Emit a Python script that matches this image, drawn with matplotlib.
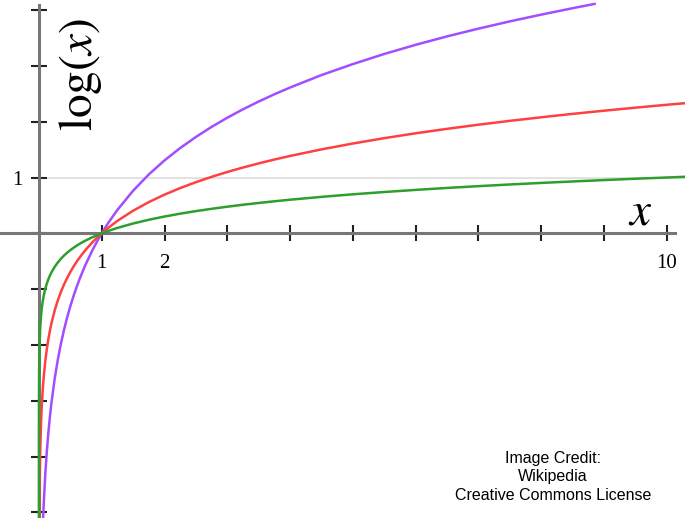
import matplotlib.pyplot as plt

plt.rcParams['mathtext.fontset'] = 'stix'

# sample points
x_vals = [1e-6, 1e-5, 1e-4, 0.001, 0.003, 0.005, 0.01, 0.02, 0.03, 0.04, 0.05, 0.06, 0.075,
          0.1, 0.125, 0.15, 0.175, 0.2, 0.25, 0.3, 0.35, 0.4, 0.45, 0.5, 0.55, 0.6, 0.65,
          0.7, 0.75, 0.85, 0.925, 1, 1.1, 1.25, 1.5, 1.75, 2, 2.25, 2.5, 2.75, 3, 3.25,
          3.5, 3.75, 4, 4.5, 5, 5.5, 6, 6.5, 7, 7.5, 8, 8.5, 9, 9.5, 10, 10.3]

green_vals = [-6.0, -5.0, -4.0, -3.0, -2.523, -2.301, -2.0, -1.699, -1.523, -1.398, -1.301, -1.222, -1.125,
              -1.0, -0.903, -0.824, -0.757, -0.699, -0.602, -0.523, -0.456, -0.398, -0.347, -0.301, -0.260, -0.222, -0.187,
              -0.155, -0.125, -0.071, -0.034, 0.0, 0.041, 0.097, 0.176, 0.243, 0.301, 0.352, 0.398, 0.439, 0.477, 0.512,
              0.544, 0.574, 0.602, 0.653, 0.699, 0.740, 0.778, 0.813, 0.845, 0.875, 0.903, 0.929, 0.954, 0.978, 1.0, 1.013]

red_vals = [-13.8, -11.51, -9.21, -6.908, -5.809, -5.298, -4.605, -3.912, -3.507, -3.219, -2.996, -2.813, -2.590,
            -2.303, -2.079, -1.897, -1.743, -1.609, -1.386, -1.204, -1.050, -0.916, -0.799, -0.693, -0.598, -0.511, -0.431,
            -0.357, -0.288, -0.163, -0.078, 0.0, 0.095, 0.223, 0.405, 0.560, 0.693, 0.811, 0.916, 1.012, 1.099, 1.179,
            1.253, 1.322, 1.386, 1.504, 1.609, 1.705, 1.792, 1.872, 1.946, 2.015, 2.079, 2.140, 2.197, 2.251, 2.303, 2.332]

# purple curve stops where it meets the top of the plot
purple_x = [1e-6, 1e-5, 1e-4, 0.001, 0.003, 0.005, 0.01, 0.02, 0.03, 0.04, 0.05, 0.06, 0.075,
            0.1, 0.125, 0.15, 0.175, 0.2, 0.25, 0.3, 0.35, 0.4, 0.45, 0.5, 0.55, 0.6, 0.65,
            0.7, 0.75, 0.85, 0.925, 1, 1.1, 1.25, 1.5, 1.75, 2, 2.25, 2.5, 2.75, 3, 3.25,
            3.5, 3.75, 4, 4.5, 5, 5.5, 6, 6.5, 7, 7.5, 8, 8.5, 8.85]
purple_vals = [-26.0, -21.7, -17.4, -13.02, -10.95, -9.98, -8.68, -7.37, -6.61, -6.066, -5.646, -5.302, -4.881,
               -4.340, -3.918, -3.575, -3.285, -3.032, -2.612, -2.269, -1.979, -1.726, -1.506, -1.306, -1.127, -0.963, -0.812,
               -0.673, -0.543, -0.307, -0.147, 0.0, 0.180, 0.420, 0.763, 1.055, 1.306, 1.528, 1.726, 1.907, 2.071, 2.222,
               2.361, 2.491, 2.612, 2.835, 3.032, 3.213, 3.377, 3.528, 3.667, 3.797, 3.918, 4.033, 4.110]

x_ticks = [1, 2, 3, 4, 5, 6, 7, 8, 9, 10]
x_tick_labels = ['1', '2', '', '', '', '', '', '', '', '10']
y_ticks = [-5, -4, -3, -2, -1, 0, 1, 2, 3, 4]
y_tick_labels = ['', '', '', '', '', '', '1', '', '', '']

fig = plt.figure(figsize=(6.85, 5.18), dpi=100)
ax = fig.add_axes([0, 0, 1, 1])
ax.set_xlim(-0.62, 10.29)
ax.set_ylim(-5.1, 4.18)

# light gridline at y = 1
ax.plot([0, 10.29], [1, 1], color='#dddddd', lw=1.2, zorder=1)

ax.plot(purple_x, purple_vals, color='#a24dff', lw=1.8, zorder=3, solid_joinstyle='round')
ax.plot(x_vals, red_vals, color='#ff4040', lw=1.8, zorder=3, solid_joinstyle='round')
ax.plot(x_vals, green_vals, color='#2e9e2e', lw=1.8, zorder=3, solid_joinstyle='round')

# axes through the origin
for s in ['top', 'right']:
    ax.spines[s].set_visible(False)
ax.spines['left'].set_position(('data', 0))
ax.spines['bottom'].set_position(('data', 0))
ax.spines['left'].set_bounds(-5.1, 4.09)
ax.spines['bottom'].set_bounds(-0.62, 10.13)
for s in ['left', 'bottom']:
    ax.spines[s].set_color('#777777')
    ax.spines[s].set_linewidth(2.2)
    ax.spines[s].set_zorder(2)

ax.set_xticks(x_ticks)
ax.set_xticklabels(x_tick_labels, fontfamily='Liberation Serif', fontsize=15)
ax.set_yticks(y_ticks)
ax.set_yticklabels(y_tick_labels, fontfamily='Liberation Serif', fontsize=15)
ax.tick_params(axis='both', direction='inout', length=12, width=1.5, color='#222222')
ax.tick_params(axis='x', pad=9)
ax.tick_params(axis='y', pad=6)

# axis labels
fig.text(80 / 685, 1 - 75 / 518, r'$\log(x)$', rotation=90, fontsize=34,
         ha='center', va='center')
fig.text(640 / 685, 1 - 212 / 518, r'$x$', fontsize=34, ha='center', va='center')

fig.text(553 / 685, 1 - 477 / 518, 'Image Credit:\nWikipedia\nCreative Commons License',
         fontfamily='Liberation Sans', fontsize=11.5, ha='center', va='center', linespacing=1.3)

plt.savefig('out.png', dpi=100)
